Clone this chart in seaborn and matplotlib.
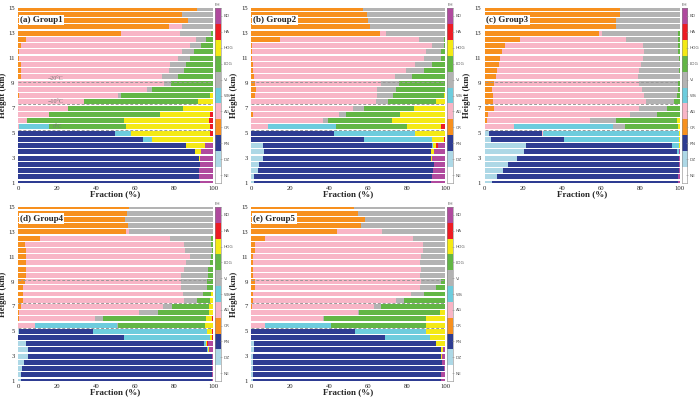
import numpy as np
import pandas as pd
import matplotlib
matplotlib.use("Agg")
import matplotlib.pyplot as plt
import seaborn as sns
from matplotlib.colors import ListedColormap

categories = ["NE", "DZ", "RN", "CR", "AG", "WS", "VI", "LDG", "HDG", "HA", "BD"]
cat_colors = ["#FFFFFF", "#ADD8E6", "#2E3C92", "#F7901E", "#F8B5C6", "#6DCCDD",
              "#B3B3B3", "#63B645", "#F4E915", "#ED1C24", "#B04A9E"]
heights = [1.0, 1.5, 2.0, 2.5, 3.0, 3.5, 4.0, 4.5, 5.0, 5.5, 6.0, 6.5, 7.0, 7.5,
           8.0, 8.5, 9.0, 9.5, 10.0, 10.5, 11.0, 11.5, 12.0, 12.5, 13.0, 13.5,
           14.0, 14.5, 15.0]
x_ticks = [0, 20, 40, 60, 80, 100]
y_ticks = [1, 3, 5, 7, 9, 11, 13, 15]
iso_levels = [5.25, 7.3, 9.1]
iso_labels = ["0°C", "\u221210°C", "\u221220°C"]
group_titles = ["(a) Group1", "(b) Group2", "(c) Group3", "(d) Group4", "(e) Group5"]

# columns: NE, DZ, RN, CR, AG, WS, VI, LDG, HDG, HA, BD ; rows: 1 km -> 15 km
group1 = [
    [0, 0, 93.2, 0, 0, 0, 0, 0, 0, 0, 6.8],
    [0, 0, 92.7, 0, 0, 0, 0, 0, 0, 0, 7.3],
    [0, 0, 92.7, 0, 0, 0, 0, 0, 0, 0, 7.3],
    [0, 0, 93.5, 0, 0, 0, 0, 0, 0, 0, 6.5],
    [0, 0, 92.7, 0, 0, 0, 0, 0, 0.8, 0, 6.5],
    [0, 0, 90.6, 0, 0, 0, 0, 0, 3.4, 0, 6.0],
    [0, 0, 86.0, 0, 0, 0, 0, 0, 9.7, 0, 4.3],
    [0, 0, 64.0, 0, 0, 4.7, 0, 0, 31.3, 0, 0],
    [0, 0, 49.8, 0, 0, 8.0, 0, 0, 40.8, 1.4, 0],
    [0, 0, 0, 0, 0.5, 15.3, 0, 39.6, 42.9, 1.7, 0],
    [0, 0, 0, 0, 4.8, 0, 0, 49.6, 43.4, 2.2, 0],
    [0, 0, 0, 0, 15.8, 0, 0, 57.2, 25.6, 1.4, 0],
    [0, 0, 0, 0, 25.7, 0, 0, 58.7, 15.6, 0, 0],
    [0, 0, 0, 0, 34.0, 0, 0, 58.3, 7.7, 0, 0],
    [0, 0, 0, 0.5, 51.0, 0, 1.2, 45.9, 1.4, 0, 0],
    [0, 0, 0, 0, 66.0, 0, 2.5, 31.5, 0, 0, 0],
    [0, 0, 0, 0, 75.0, 0, 3.4, 21.6, 0, 0, 0],
    [0, 0, 0, 1.5, 72.5, 0, 8.0, 18.0, 0, 0, 0],
    [0, 0, 0, 1.5, 75.9, 0, 7.6, 15.0, 0, 0, 0],
    [0, 0, 0, 1.5, 76.5, 0, 8.0, 14.0, 0, 0, 0],
    [0, 0, 0, 0.5, 81.5, 0, 6.0, 12.0, 0, 0, 0],
    [0, 0, 0, 0.5, 83.5, 0, 6.0, 10.0, 0, 0, 0],
    [0, 0, 0, 1.7, 86.7, 0, 5.6, 6.0, 0, 0, 0],
    [0, 0, 0, 4.0, 87.5, 0, 5.1, 3.4, 0, 0, 0],
    [0, 0, 0, 53.0, 30.0, 0, 16.0, 1.0, 0, 0, 0],
    [0, 0, 0, 77.5, 6.5, 0, 16.0, 0, 0, 0, 0],
    [0, 0, 0, 87.0, 0, 0, 13.0, 0, 0, 0, 0],
    [0, 0, 0, 84.0, 0, 0, 16.0, 0, 0, 0, 0],
    [0, 0, 0, 92.0, 0, 0, 8.0, 0, 0, 0, 0],
]

group2 = [
    [0, 1.4, 91.2, 0, 0, 0, 0, 0, 0, 0, 7.4],
    [0, 1.4, 91.4, 0, 0, 0, 0, 0, 0, 0, 7.2],
    [0, 3.1, 90.5, 0, 0, 0, 0, 0, 0, 0, 6.4],
    [0, 3.8, 90.5, 0, 0, 0, 0, 0, 0, 0, 5.7],
    [0, 5.8, 86.6, 0, 0, 0, 0, 0, 0.4, 0, 7.2],
    [0, 6.5, 85.8, 0, 0, 0, 0, 0, 1.7, 0, 6.0],
    [0, 6.0, 86.8, 0, 0, 0.7, 0, 0, 1.7, 0.7, 4.1],
    [0, 0, 58.0, 0, 0, 35.1, 0, 0, 6.2, 0.7, 0],
    [0, 0, 42.6, 0, 0, 41.6, 0, 0, 15.8, 0, 0],
    [0, 0, 0, 0, 8.6, 34.9, 0, 36.5, 17.9, 2.1, 0],
    [0, 0, 0, 0, 37.1, 0, 2.4, 32.7, 27.8, 0, 0],
    [0, 0, 0, 1.0, 44.0, 0, 3.6, 27.7, 23.7, 0, 0],
    [0, 0, 0, 0, 52.4, 0, 5.6, 25.7, 16.3, 0, 0],
    [0, 0, 0, 0, 64.0, 0, 6.3, 24.7, 5.0, 0, 0],
    [0, 0, 0, 2.0, 62.6, 0, 8.4, 26.1, 0.9, 0, 0],
    [0, 0, 0, 2.3, 62.3, 0, 9.8, 25.6, 0, 0, 0],
    [0, 0, 0, 2.0, 65.0, 0, 8.8, 24.2, 0, 0, 0],
    [0, 0, 0, 1.5, 72.5, 0, 8.6, 17.4, 0, 0, 0],
    [0, 0, 0, 1.0, 78.6, 0, 9.2, 11.2, 0, 0, 0],
    [0, 0, 0, 1.0, 83.2, 0, 8.6, 7.2, 0, 0, 0],
    [0, 0, 0, 0.5, 88.5, 0, 8.8, 2.2, 0, 0, 0],
    [0, 0, 0, 0.5, 89.5, 0, 7.8, 2.2, 0, 0, 0],
    [0, 0, 0, 0.5, 92.5, 0, 6.0, 1.0, 0, 0, 0],
    [0, 0, 0, 14.8, 71.6, 0, 12.7, 0.9, 0, 0, 0],
    [0, 0, 0, 66.0, 3.4, 0, 30.6, 0, 0, 0, 0],
    [0, 0, 0, 61.3, 0, 0, 38.7, 0, 0, 0, 0],
    [0, 0, 0, 60.0, 0, 0, 40.0, 0, 0, 0, 0],
    [0, 0, 0, 59.3, 0, 0, 40.7, 0, 0, 0, 0],
    [0, 0, 0, 57.5, 0, 0, 42.5, 0, 0, 0, 0],
]

group3 = [
    [0, 3.8, 95.5, 0, 0, 0, 0, 0, 0, 0, 0.7],
    [0, 6.2, 93.1, 0, 0, 0, 0, 0, 0, 0, 0.7],
    [0, 9.6, 89.9, 0, 0, 0, 0, 0, 0, 0, 0.5],
    [0, 12.0, 87.5, 0, 0, 0, 0, 0, 0, 0, 0.5],
    [0, 16.6, 82.9, 0, 0, 0, 0, 0, 0, 0, 0.5],
    [0, 20.0, 78.8, 0, 0, 0.7, 0, 0, 0, 0, 0.5],
    [0, 21.4, 75.0, 0, 0, 3.1, 0, 0, 0.5, 0, 0],
    [0, 3.1, 37.8, 0, 0, 58.6, 0, 0, 0.5, 0, 0],
    [0, 2.4, 27.0, 0, 0.6, 69.5, 0, 0, 0.5, 0, 0],
    [0, 0, 0, 0, 14.9, 50.9, 6.0, 27.2, 1.0, 0, 0],
    [0, 0, 0, 1.4, 52.8, 0, 13.2, 31.4, 1.2, 0, 0],
    [0, 0, 0, 2.0, 72.4, 0, 14.3, 11.3, 0, 0, 0],
    [0, 0, 0, 4.8, 74.5, 0, 14.2, 6.5, 0, 0, 0],
    [0, 0, 0, 4.4, 78.6, 0, 14.0, 3.0, 0, 0, 0],
    [0, 0, 0, 4.4, 77.6, 0, 16.5, 1.5, 0, 0, 0],
    [0, 0, 0, 3.8, 77.1, 0, 18.1, 1.0, 0, 0, 0],
    [0, 0, 0, 4.8, 74.5, 0, 20.0, 0.7, 0, 0, 0],
    [0, 0, 0, 5.8, 73.0, 0, 21.2, 0, 0, 0, 0],
    [0, 0, 0, 6.2, 73.1, 0, 20.2, 0.5, 0, 0, 0],
    [0, 0, 0, 7.4, 72.8, 0, 19.8, 0, 0, 0, 0],
    [0, 0, 0, 7.9, 73.6, 0, 18.0, 0.5, 0, 0, 0],
    [0, 0, 0, 9.2, 72.8, 0, 17.0, 1.0, 0, 0, 0],
    [0, 0, 0, 10.6, 70.8, 0, 17.6, 1.0, 0, 0, 0],
    [0, 0, 0, 18.3, 54.3, 0, 26.4, 1.0, 0, 0, 0],
    [0, 0, 0, 58.5, 2.0, 0, 38.5, 1.0, 0, 0, 0],
    [0, 0, 0, 67.4, 0, 0, 32.6, 0, 0, 0, 0],
    [0, 0, 0, 67.4, 0, 0, 32.6, 0, 0, 0, 0],
    [0, 0, 0, 69.7, 0, 0, 30.3, 0, 0, 0, 0],
    [0, 0, 0, 69.7, 0, 0, 30.3, 0, 0, 0, 0],
]

group4 = [
    [0, 1.5, 98.0, 0, 0, 0, 0, 0, 0, 0.2, 0.3],
    [0, 1.7, 98.0, 0, 0, 0, 0, 0, 0, 0, 0.3],
    [0, 2.2, 97.5, 0, 0, 0, 0, 0, 0, 0, 0.3],
    [0, 3.2, 96.1, 0, 0, 0, 0, 0, 0, 0, 0.7],
    [0, 5.0, 94.3, 0, 0, 0, 0, 0, 0, 0, 0.7],
    [0, 5.0, 92.0, 0, 0, 0.5, 0, 0, 0.5, 0, 2.0],
    [0, 4.1, 91.1, 0, 0, 1.2, 0, 0, 0.6, 0.4, 2.6],
    [0, 0, 54.2, 0, 0, 44.1, 0, 0, 1.2, 0.5, 0],
    [0, 0.5, 37.8, 0, 0, 58.7, 0, 0, 2.7, 0.3, 0],
    [0, 0, 0, 0, 8.9, 41.7, 0.5, 44.9, 4.0, 0, 0],
    [0, 0, 0, 0.5, 39.2, 0, 3.7, 53.0, 3.3, 0.3, 0],
    [0, 0, 0, 0.5, 61.4, 0, 9.7, 26.2, 2.2, 0, 0],
    [0, 0, 0, 1.7, 72.7, 0, 4.7, 19.0, 1.9, 0, 0],
    [0, 0, 0, 2.6, 82.5, 0, 6.7, 6.8, 1.4, 0, 0],
    [0, 0, 0, 2.7, 81.9, 0, 10.4, 4.1, 0.9, 0, 0],
    [0, 0, 0, 2.7, 81.1, 0, 13.3, 2.9, 0, 0, 0],
    [0, 0, 0, 3.8, 80.0, 0, 13.3, 2.9, 0, 0, 0],
    [0, 0, 0, 4.1, 79.5, 0, 14.0, 2.4, 0, 0, 0],
    [0, 0, 0, 4.3, 80.8, 0, 12.5, 2.4, 0, 0, 0],
    [0, 0, 0, 4.3, 82.0, 0, 12.0, 1.7, 0, 0, 0],
    [0, 0, 0, 4.1, 84.1, 0, 10.9, 0.9, 0, 0, 0],
    [0, 0, 0, 4.3, 81.5, 0, 13.5, 0.7, 0, 0, 0],
    [0, 0, 0, 3.4, 81.6, 0, 14.1, 0.9, 0, 0, 0],
    [0, 0, 0, 11.1, 66.7, 0, 21.3, 0.9, 0, 0, 0],
    [0, 0, 0, 55.4, 1.6, 0, 43.0, 0, 0, 0, 0],
    [0, 0, 0, 56.4, 0, 0, 43.6, 0, 0, 0, 0],
    [0, 0, 0, 55.0, 0, 0, 45.0, 0, 0, 0, 0],
    [0, 0, 0, 56.0, 0, 0, 44.0, 0, 0, 0, 0],
    [0, 0, 0, 57.0, 0, 0, 43.0, 0, 0, 0, 0],
]

group5 = [
    [0, 0.9, 96.9, 0, 0, 0, 0, 0, 0, 0, 2.2],
    [0, 1.0, 96.8, 0, 0, 0, 0, 0, 0, 0, 2.2],
    [0, 0.9, 98.2, 0, 0, 0, 0, 0, 0, 0, 0.9],
    [0, 1.0, 97.3, 0, 0, 0, 0, 0, 0, 0, 1.7],
    [0, 1.0, 96.6, 0, 0, 0, 0, 0, 0.5, 0, 1.9],
    [0, 1.2, 96.4, 0, 0, 0, 0, 0, 1.0, 0, 1.4],
    [0, 1.4, 93.9, 0, 0, 0, 0, 0, 4.2, 0.5, 0],
    [0, 0, 68.6, 0, 0, 23.3, 0, 0, 8.1, 0, 0],
    [0, 0, 53.1, 0, 0, 36.9, 0, 0, 10.0, 0, 0],
    [0, 0, 0, 0, 7.2, 33.8, 0, 49.2, 9.8, 0, 0],
    [0, 0, 0, 0, 36.6, 0, 0.6, 53.0, 9.8, 0, 0],
    [0, 0, 0, 0, 54.7, 0, 0.8, 41.9, 2.6, 0, 0],
    [0, 0, 0, 0.5, 62.9, 0, 3.3, 33.0, 0.3, 0, 0],
    [0, 0, 0, 1.0, 73.7, 0, 3.9, 21.4, 0, 0, 0],
    [0, 0, 0, 1.0, 81.2, 0, 6.6, 11.2, 0, 0, 0],
    [0, 0, 0, 1.7, 85.2, 0, 8.4, 4.7, 0, 0, 0],
    [0, 0, 0, 2.0, 85.2, 0, 10.7, 2.1, 0, 0, 0],
    [0, 0, 0, 1.0, 86.0, 0, 12.7, 0.3, 0, 0, 0],
    [0, 0, 0, 1.0, 86.2, 0, 12.8, 0, 0, 0, 0],
    [0, 0, 0, 0.9, 86.1, 0, 13.0, 0, 0, 0, 0],
    [0, 0, 0, 0.7, 86.9, 0, 12.4, 0, 0, 0, 0],
    [0, 0, 0, 1.7, 86.6, 0, 11.7, 0, 0, 0, 0],
    [0, 0, 0, 1.7, 86.6, 0, 11.7, 0, 0, 0, 0],
    [0, 0, 0, 6.9, 76.5, 0, 16.6, 0, 0, 0, 0],
    [0, 0, 0, 44.0, 23.2, 0, 32.8, 0, 0, 0, 0],
    [0, 0, 0, 56.6, 0, 0, 43.4, 0, 0, 0, 0],
    [0, 0, 0, 58.6, 0, 0, 41.4, 0, 0, 0, 0],
    [0, 0, 0, 54.7, 0, 0, 45.3, 0, 0, 0, 0],
    [0, 0, 0, 53.0, 0, 0, 47.0, 0, 0, 0, 0],
]

groups = [group1, group2, group3, group4, group5]

sns.set_style("white")
plt.rcParams["font.family"] = ["Liberation Serif", "DejaVu Serif"]

W, H = 700, 398
fig = plt.figure(figsize=(7.0, 3.98), dpi=100)

# pixel boxes (left, right, top, bottom) for each panel
col_lr = [(18, 213), (251.5, 445.5), (484.5, 679.5)]
row_tb = [(8, 183), (207, 381)]
panel_pos = [(0, 0), (0, 1), (0, 2), (1, 0), (1, 1)]
ylabel_x = [-0.058, -0.068, -0.068]

def px_axes(l, r, t, b):
    return fig.add_axes([l / W, 1 - b / H, (r - l) / W, (b - t) / H])

legend_cmap = ListedColormap(cat_colors)

for gi, (data, title) in enumerate(zip(groups, group_titles)):
    ri, ci = panel_pos[gi]
    l, r = col_lr[ci]
    t, b = row_tb[ri]
    ax = px_axes(l, r, t, b)
    arr = np.array(data, dtype=float)
    cum = np.cumsum(arr, axis=1)
    df = pd.DataFrame(cum, columns=categories)
    df["height"] = heights
    for k in range(len(categories) - 1, -1, -1):
        sns.barplot(data=df, x=categories[k], y="height", orient="y",
                    native_scale=True, color=cat_colors[k], saturation=1,
                    width=0.8, errorbar=None, linewidth=0, ax=ax)
    ax.set_xlim(0, 100)
    ax.set_ylim(1, 15)
    ax.set_xticks(x_ticks)
    ax.set_yticks(y_ticks)
    ax.tick_params(axis="both", labelsize=4.8, length=1.5, width=0.5,
                   pad=1, color="#444444", labelcolor="#222222")
    for s in ax.spines.values():
        s.set_visible(False)
    ax.set_xlabel("Fraction (%)", fontsize=6.5, fontweight="bold")
    ax.set_ylabel("Height (km)", fontsize=6.3, fontweight="bold")
    ax.yaxis.set_label_coords(ylabel_x[ci], 0.5)
    ax.xaxis.set_label_coords(0.5, -0.04)
    for lev in iso_levels:
        ax.axhline(lev, color="#999999", lw=0.7, ls=(0, (3, 2)), zorder=5)
    if gi == 0:
        ax.text(15, 9.15, iso_labels[2], fontsize=4.3, color="#777777",
                va="bottom", zorder=6)
        ax.text(15, 7.35, iso_labels[1], fontsize=4.3, color="#777777",
                va="bottom", zorder=6)
        ax.text(18, 5.3, iso_labels[0], fontsize=4.3, color="#777777",
                va="bottom", zorder=6)
    ax.text(0.01, 0.955, title, transform=ax.transAxes, fontsize=6.5,
            fontweight="bold", va="top", ha="left", zorder=10,
            bbox=dict(boxstyle="square,pad=0.15", facecolor="white",
                      edgecolor="none"))

    # category strip legend
    lax = px_axes(r + 2, r + 7.5, t, b)
    lax.imshow(np.arange(len(categories)).reshape(-1, 1), cmap=legend_cmap,
               origin="lower", aspect="auto", extent=[0, 1, 0, len(categories)],
               vmin=-0.5, vmax=len(categories) - 0.5, interpolation="nearest")
    lax.set_xticks([])
    lax.set_yticks(np.arange(len(categories)) + 0.5)
    lax.set_yticklabels(categories, family=["DejaVu Sans"])
    lax.yaxis.tick_right()
    lax.tick_params(axis="y", labelsize=3.1, length=2, width=0.4,
                    pad=1.2, color="#999999", labelcolor="#555555",
                    direction="inout")
    for s in lax.spines.values():
        s.set_linewidth(0.4)
        s.set_color("#888888")
    lax.set_title("FH", fontsize=3.1, color="#555555", pad=1.2,
                  family=["DejaVu Sans"])

fig.savefig("out.png", dpi=100)
